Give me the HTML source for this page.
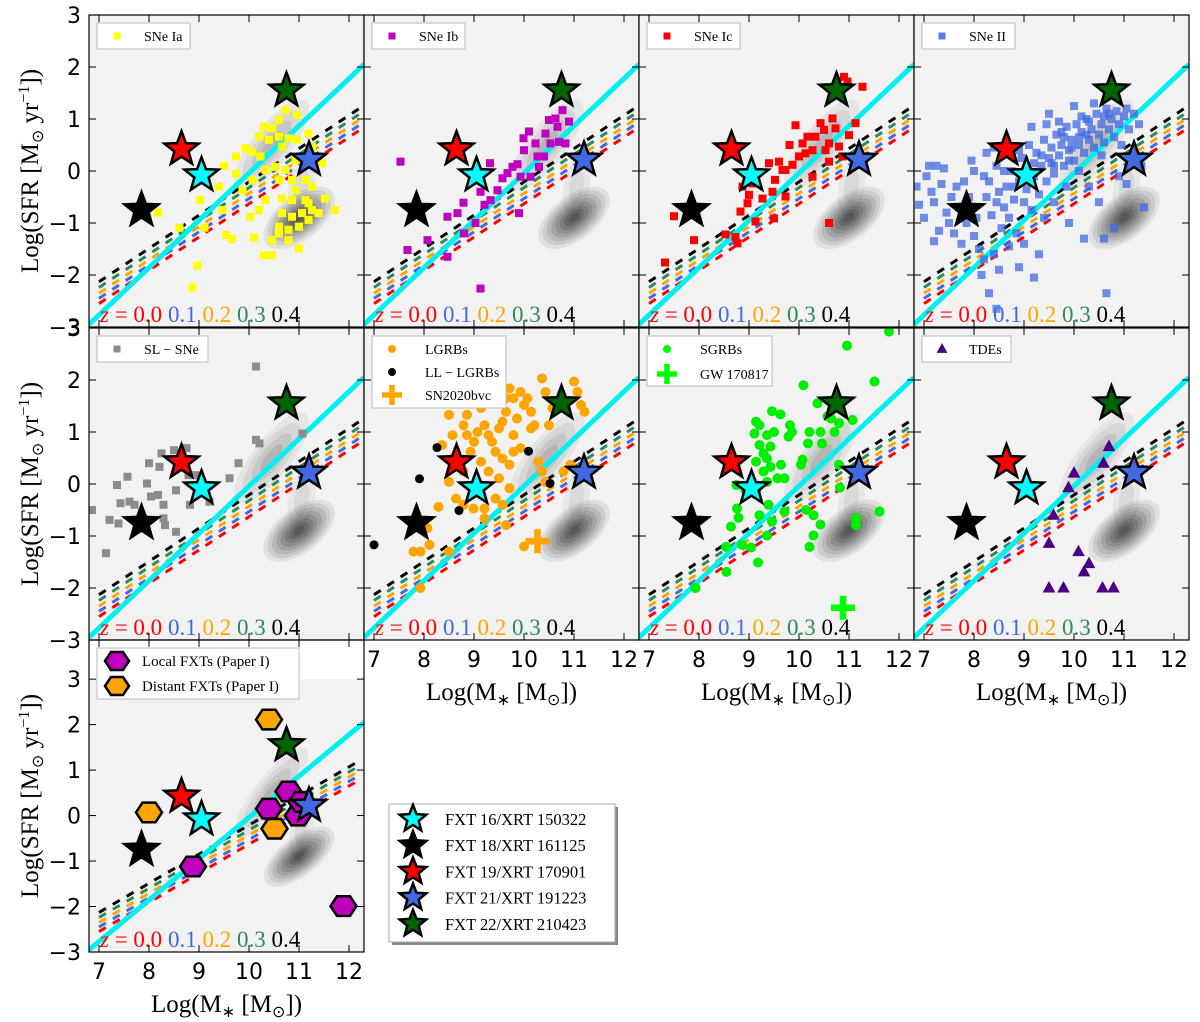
<!DOCTYPE html>
<html><head><meta charset="utf-8"><style>
html,body{margin:0;padding:0;background:#fff;}
svg{display:block;}
</style></head><body>
<svg id="fig" xmlns="http://www.w3.org/2000/svg" width="1200" height="1022" viewBox="0 0 1200 1022">
<defs></defs>
</svg>
<script>
// ---------- data ----------
const xTicks=[7,8,9,10,11,12];
const yTicks=[-3,-2,-1,0,1,2,3];
const zLabels=["0.0","0.1","0.2","0.3","0.4"];
const zColors=["#ff0000","#4169e1","#ffa500","#2e8b57","#000000"];
const msIntercept7=[-2.55,-2.45,-2.35,-2.24,-2.13];
const msSlope=0.64;
const cyanLine=[[6.8,-2.95],[12.3,2.05]];
const fxtNames=["FXT 16/XRT 150322","FXT 18/XRT 161125","FXT 19/XRT 170901","FXT 21/XRT 191223","FXT 22/XRT 210423"];
const fxtColors=["#00ffff","#000000","#ff0000","#4169e1","#006400"];
const fxtMass=[9.05,7.85,8.65,11.2,10.75];
const fxtSFR=[-0.08,-0.75,0.42,0.22,1.55];

const sneIa=[[8.18,-0.80],[8.61,-1.09],[9.02,-0.56],[8.97,-1.82],[8.87,-2.24],[9.11,-1.09],[9.54,-1.23],[9.66,-1.31],[10.03,-0.88],[10.10,-1.28],[10.20,-0.75],[10.30,-1.62],[10.46,-1.62],[9.50,0.10],[9.74,0.28],[9.93,0.44],[10.07,0.37],[10.23,0.28],[10.30,0.85],[10.46,0.82],[10.60,0.98],[10.73,1.17],[10.96,1.08],[10.60,0.66],[10.66,0.47],[10.79,0.63],[10.96,0.60],[10.33,0.02],[10.53,0.08],[10.73,0.02],[10.60,-0.17],[10.86,-0.17],[11.13,-0.17],[11.26,-0.30],[10.93,-0.37],[10.66,-0.53],[10.86,-0.56],[11.13,-0.56],[11.52,-0.53],[11.72,-0.75],[10.66,-0.81],[10.86,-0.88],[11.06,-0.81],[11.26,-0.75],[10.60,-1.07],[10.79,-1.13],[11.0,-1.07],[11.19,-0.94],[10.79,-1.33],[11.0,-1.49],[10.46,-1.33],[10.60,-1.20],[10.33,-0.56],[10.07,-0.17],[11.46,0.15],[11.26,0.47],[11.19,0.72],[9.74,-0.05],[9.87,-0.37],[9.40,-0.30],[10.93,0.21],[10.40,0.60],[10.20,0.66],[9.47,-0.75],[11.19,-0.62],[11.39,-0.81]];
const sneIb=[[7.53,0.18],[7.67,-1.52],[8.07,-1.33],[8.47,-0.88],[8.67,-0.81],[8.79,-0.61],[8.47,-1.65],[8.80,-1.20],[9.03,-1.0],[9.13,-0.40],[9.32,0.15],[9.21,-0.65],[9.33,-0.56],[9.47,-0.37],[9.57,-0.14],[9.67,-0.04],[9.77,0.08],[9.87,0.13],[9.93,-0.11],[9.99,0.63],[10.1,0.76],[10.23,0.53],[10.27,0.28],[10.43,0.72],[10.5,0.98],[10.63,1.01],[10.77,1.17],[10.9,0.95],[10.67,0.85],[10.53,0.53],[10.7,0.56],[10.83,0.53],[10.4,0.28],[10.13,-0.11],[9.9,-0.81],[9.13,-2.26],[10.0,0.4],[10.3,0.08]];
const sneIc=[[7.5,-0.87],[7.9,-1.33],[7.32,-1.76],[8.53,-1.22],[8.73,-1.27],[8.77,-1.39],[8.83,-0.78],[8.87,-0.30],[8.97,-0.62],[9.0,-0.46],[9.07,-0.24],[9.13,-0.97],[9.27,-0.53],[9.4,0.15],[9.47,-0.40],[9.5,-0.91],[9.52,-0.17],[9.6,0.18],[9.67,0.02],[9.73,-0.49],[9.81,0.50],[9.87,0.12],[9.93,0.88],[10.0,0.28],[10.07,0.53],[10.17,0.66],[10.27,0.40],[10.27,-0.11],[10.33,0.66],[10.43,0.92],[10.5,0.79],[10.6,0.53],[10.67,1.01],[10.73,0.82],[10.8,0.47],[10.9,1.81],[10.97,1.72],[11.0,0.69],[11.13,0.92],[11.27,1.62],[10.6,0.18],[10.6,-1.0],[10.53,0.40],[9.73,0.02],[10.13,0.34],[10.87,0.28]];
const sneII=[[6.85,-0.3],[6.9,-0.65],[7.0,-0.9],[7.05,-0.1],[7.1,0.1],[7.15,-0.4],[7.2,-0.6],[7.3,-1.15],[7.35,-0.25],[7.4,0.05],[7.45,-0.8],[7.5,-1.0],[7.55,-0.5],[7.6,-1.2],[7.65,-0.3],[7.7,-0.7],[7.75,-1.4],[7.8,-0.2],[7.85,-1.0],[7.9,-0.5],[7.95,0.2],[8.0,-1.25],[8.05,-0.9],[8.1,-1.5],[8.15,-2.0],[8.2,-1.7],[8.25,-0.5],[8.3,-0.2],[8.35,-0.85],[8.4,-1.6],[8.45,0.1],[8.5,-0.4],[8.55,-1.1],[8.6,-0.7],[8.65,-0.3],[8.7,-0.9],[8.75,0.0],[8.8,-0.55],[8.85,-1.2],[8.9,-0.2],[8.95,0.25],[9.0,-0.6],[9.05,-0.35],[9.1,0.5],[9.15,-0.75],[9.2,-0.1],[9.25,0.35],[9.3,-0.45],[9.35,0.1],[9.4,0.6],[9.45,-0.2],[9.5,0.25],[9.55,0.45],[9.6,-0.05],[9.65,0.7],[9.7,0.3],[9.75,0.5],[9.8,0.1],[9.85,0.85],[9.9,0.4],[9.95,0.6],[10.0,0.2],[10.05,0.9],[10.1,0.5],[10.15,0.75],[10.2,0.35],[10.25,1.0],[10.3,0.6],[10.35,0.8],[10.4,0.45],[10.45,1.1],[10.5,0.7],[10.55,0.9],[10.6,0.55],[10.65,1.2],[10.7,0.8],[10.75,1.0],[10.8,0.65],[10.85,1.15],[10.9,0.9],[10.95,0.5],[11.0,1.05],[11.1,0.8],[11.2,1.1],[11.3,0.9],[10.3,-0.3],[10.5,-0.6],[10.2,-1.3],[10.8,-1.1],[10.6,-1.3],[11.4,-0.7],[9.4,-0.9],[9.9,-1.0],[9.3,-1.6],[8.3,-2.35],[8.45,-2.65],[10.65,-2.35],[9.2,-2.05],[9.85,-0.3],[9.6,-0.6],[10.1,0.0],[9.7,0.95],[9.45,0.9],[8.4,0.45],[8.9,0.4],[8.25,0.35],[7.25,0.1],[9.5,1.1],[10.0,1.25],[10.4,1.3],[9.15,0.85],[8.0,0.0],[11.05,-0.25],[11.35,0.1],[10.9,-0.1],[9.0,-1.4],[8.7,-1.45],[8.5,-1.9],[8.9,-1.85],[7.2,-1.35],[9.6,0.1],[9.8,0.65],[10.3,0.95],[9.9,0.2],[10.6,1.05],[10.1,0.65],[8.2,-0.1],[8.6,0.0],[9.1,-0.15],[9.55,0.15],[9.95,0.45],[10.25,0.7],[10.7,1.1],[11.05,1.2],[10.55,0.3],[9.35,0.3],[9.75,0.75],[10.15,1.05],[8.8,-0.3],[8.45,-0.6],[9.2,0.15]];
const slSNe=[[10.14,2.26],[6.86,-0.5],[7.14,-1.33],[7.21,-0.69],[7.39,-0.76],[7.36,-0.02],[7.43,-0.37],[7.57,0.14],[7.61,-0.34],[7.71,-0.4],[7.96,0.01],[8.0,0.4],[8.04,-0.24],[8.18,-0.21],[8.21,0.33],[8.25,0.59],[8.29,-0.4],[8.29,-0.66],[8.32,-0.79],[8.5,0.65],[8.54,-0.12],[8.54,-0.92],[8.75,0.69],[8.79,0.17],[8.82,-0.4],[8.93,0.17],[9.21,-0.34],[9.61,0.11],[9.79,0.4],[10.14,0.85],[10.21,0.78],[11.07,0.97]];
const lgrbs=[[8.5,1.33],[8.79,1.13],[8.86,0.94],[9.0,0.81],[9.07,1.0],[9.21,1.13],[9.29,0.94],[9.36,0.81],[9.5,1.07],[9.57,1.2],[9.64,1.39],[9.71,1.84],[9.79,1.65],[9.86,1.26],[9.93,1.77],[10.0,1.52],[10.07,1.65],[10.14,1.39],[10.21,1.13],[10.36,2.03],[10.43,1.77],[10.5,1.13],[11.0,1.97],[11.07,1.77],[11.14,1.52],[11.21,1.39],[9.29,1.77],[9.64,1.65],[9.43,0.62],[9.57,0.49],[9.71,0.37],[9.14,0.43],[9.29,0.24],[9.5,0.11],[9.79,0.62],[9.93,0.69],[9.71,-0.08],[9.43,-0.28],[9.57,-0.4],[8.64,-0.28],[8.5,0.04],[8.29,-0.44],[8.79,-0.4],[8.99,-0.47],[8.36,0.75],[8.57,0.49],[8.93,0.62],[9.21,-0.47],[8.07,-0.85],[8.11,-1.17],[7.79,-1.3],[7.93,-1.3],[7.93,-2.0],[8.5,-1.3],[9.21,-0.66],[9.64,-0.79],[10.0,-1.2],[10.29,0.43],[10.36,0.24],[10.43,0.04],[10.79,0.24],[10.93,0.37],[8.79,0.24],[9.07,0.04],[8.86,1.33],[9.79,0.94],[10.14,1.07],[10.57,1.46],[8.57,0.94],[9.14,1.46]];
const llgrbs=[[7.0,-1.17],[7.91,0.1],[8.26,0.7],[8.7,-0.51],[10.09,0.63],[10.52,0.01]];
const sn2020bvc=[[10.27,-1.1]];
const sgrbs=[[11.8,2.93],[10.96,2.66],[11.51,1.97],[10.09,1.9],[10.37,1.55],[10.64,1.26],[10.8,1.17],[11.07,1.23],[9.46,1.4],[9.63,1.34],[9.14,1.2],[9.21,1.13],[9.11,0.97],[9.36,0.94],[9.5,1.0],[9.82,1.13],[9.86,1.0],[9.79,0.91],[10.21,1.0],[10.43,1.0],[10.71,1.0],[10.18,0.78],[10.46,0.78],[9.21,0.75],[9.43,0.72],[9.29,0.59],[9.14,0.43],[9.36,0.49],[9.43,0.33],[9.64,0.37],[9.71,0.11],[9.57,0.11],[9.29,0.24],[9.36,0.04],[10.04,0.37],[10.07,0.47],[8.75,-0.02],[8.93,-0.12],[9.14,-0.15],[9.39,-0.4],[8.76,-0.47],[8.79,-0.65],[8.64,-0.82],[9.21,-0.6],[9.46,-0.72],[9.71,-0.53],[10.14,-0.5],[10.29,-0.6],[10.43,-0.78],[10.29,-0.99],[10.21,-1.21],[9.36,-0.99],[8.86,-1.17],[9.04,-1.22],[8.54,-1.21],[9.18,-1.51],[8.55,-1.69],[7.93,-2.0],[10.82,-0.07],[10.8,0.37],[11.14,-0.79],[11.14,-0.66],[11.61,-0.53],[10.57,1.3]];
const gw170817=[[10.88,-2.38]];
const tdes=[[9.5,-2.0],[9.79,-2.0],[10.57,-2.0],[10.79,-2.0],[9.5,-1.14],[10.09,-1.3],[10.3,-1.53],[10.2,-1.69],[9.59,-0.6],[9.89,-0.07],[10.0,0.21],[10.59,0.4],[10.7,0.72]];
const localFXTs=[[8.88,-1.12],[10.4,0.15],[10.79,0.53],[10.98,0.0],[11.89,-1.99],[11.05,0.3]];
const distantFXTs=[[8.0,0.07],[10.4,2.11],[10.51,-0.29]];

// ---------- layout ----------
const NS="http://www.w3.org/2000/svg";
const svg=document.getElementById('fig');
const defs=svg.querySelector('defs');
const COLX=[89,364,639,914], PW=275, XMIN=6.8, XMAX=12.3;
const ROWS=[{top:15,h:312,ymin:-3,ymax:3},{top:328,h:312,ymin:-3,ymax:3},{top:640,h:312,ymin:-3,ymax:3.86}];
function el(tag,attrs,parent){const e=document.createElementNS(NS,tag);for(const k in attrs)e.setAttribute(k,attrs[k]);(parent||svg).appendChild(e);return e;}
function starPts(cx,cy,R,r){let p=[];for(let i=0;i<10;i++){const a=-Math.PI/2+i*Math.PI/5;const rr=i%2?r:R;p.push((cx+rr*Math.cos(a)).toFixed(1)+","+(cy+rr*Math.sin(a)).toFixed(1));}return p.join(" ");}
function hexPts(cx,cy,R){let p=[];for(let i=0;i<6;i++){const a=i*Math.PI/3;p.push((cx+R*Math.cos(a)).toFixed(1)+","+(cy+R*0.87*Math.sin(a)).toFixed(1));}return p.join(" ");}

const panels=[
 {r:0,c:0,name:"sne-ia",legend:[{label:"SNe Ia",m:"sq",col:"#ffff00"}],series:[{d:sneIa,m:"sq",col:"#ffff00",s:8,nm:"sne-ia-point"}],lw:93},
 {r:0,c:1,name:"sne-ib",legend:[{label:"SNe Ib",m:"sq",col:"#bf00bf"}],series:[{d:sneIb,m:"sq",col:"#bf00bf",s:8,nm:"sne-ib-point"}],lw:93},
 {r:0,c:2,name:"sne-ic",legend:[{label:"SNe Ic",m:"sq",col:"#ff0000"}],series:[{d:sneIc,m:"sq",col:"#ff0000",s:8,nm:"sne-ic-point"}],lw:93},
 {r:0,c:3,name:"sne-ii",legend:[{label:"SNe II",m:"sq",col:"#5a7be8"}],series:[{d:sneII,m:"sq",col:"#4169e1",s:8,op:0.75,nm:"sne-ii-point"}],lw:93},
 {r:1,c:0,name:"sl-sne",legend:[{label:"SL − SNe",m:"sq",col:"#8c8c8c"}],series:[{d:slSNe,m:"sq",col:"#8c8c8c",s:8,nm:"sl-sne-point"}],lw:111},
 {r:1,c:1,name:"lgrbs",legend:[{label:"LGRBs",m:"ci",col:"#ffa500"},{label:"LL − LGRBs",m:"ci",col:"#000"},{label:"SN2020bvc",m:"plus",col:"#ffa500"}],series:[{d:lgrbs,m:"ci",col:"#ffa500",s:5,nm:"lgrb-point"},{d:llgrbs,m:"ci",col:"#000",s:4.5,nm:"ll-lgrb-point"},{d:sn2020bvc,m:"plus",col:"#ffa500",s:12,nm:"sn2020bvc-marker"}],lw:134},
 {r:1,c:2,name:"sgrbs",legend:[{label:"SGRBs",m:"ci",col:"#00ff00"},{label:"GW 170817",m:"plus",col:"#00ff00"}],series:[{d:sgrbs,m:"ci",col:"#00ee00",s:5,nm:"sgrb-point"},{d:gw170817,m:"plus",col:"#00ff00",s:12,nm:"gw170817-marker"}],lw:125},
 {r:1,c:3,name:"tdes",legend:[{label:"TDEs",m:"tri",col:"#4b0082"}],series:[{d:tdes,m:"tri",col:"#4b0082",s:7,nm:"tde-point"}],lw:89},
 {r:2,c:0,name:"fxts",legend:[{label:"Local FXTs (Paper I)",m:"hex",col:"#bf00bf"},{label:"Distant FXTs (Paper I)",m:"hex",col:"#ffa500"}],series:[],lw:202},
];

panels.forEach((P,pi)=>{
 const R=ROWS[P.r], x0=COLX[P.c], y0=R.top, ky=R.h/(R.ymax-R.ymin);
 const sx=v=>x0+(v-XMIN)*PW/(XMAX-XMIN);
 const sy=v=>y0+(R.ymax-v)*ky;
 const cid="clip"+pi;
 const cp=el('clipPath',{id:cid},defs); el('rect',{x:x0,y:y0,width:PW,height:R.h},cp);
 const g=el('g',{'clip-path':`url(#${cid})`});
 
 
 const bgTop=P.r===2?sy(3):y0;
 el('rect',{x:x0,y:bgTop,width:PW,height:y0+R.h-bgTop,fill:'#f2f2f2'},g);
 // contours
 const cg=el('g',{},g);
 
 
 const f=ky/52;
 const blobs=[
  {cx:10.45,cy:0.5,rx:56,ry:19,rot:-52,n:4,op:0.05},
  {cx:11.05,cy:-0.3,rx:30,ry:13,rot:-80,n:2,op:0.045},
  {cx:11.0,cy:-0.9,rx:42,ry:22,rot:-38,n:8,op:0.075}];
 blobs.forEach((b)=>{for(let k=0;k<b.n;k++){const s=1-k/(b.n+0.3);const px=sx(b.cx),py=sy(b.cy);
   el('ellipse',{cx:px,cy:py,rx:b.rx*s,ry:b.ry*s*f,transform:`rotate(${b.rot} ${px} ${py})`,fill:'#000','fill-opacity':b.op+k*0.012},cg);}});
 zColors.forEach((zc,i)=>{const ln=el('line',{x1:sx(7),y1:sy(msIntercept7[i]),x2:sx(12.2),y2:sy(msIntercept7[i]+msSlope*5.2),stroke:zc,'stroke-width':3,'stroke-dasharray':'8 8'},g);
  
  });
 const cl=el('line',{x1:sx(cyanLine[0][0]),y1:sy(cyanLine[0][1]),x2:sx(cyanLine[1][0]),y2:sy(cyanLine[1][1]),stroke:'#00f0f0','stroke-width':5},g);
 
 
 function marker(m,col,px,py,s,parent,op){let e;
  if(m==='sq')e=el('rect',{x:px-s/2,y:py-s/2,width:s,height:s,fill:col},parent);
  else if(m==='ci')e=el('circle',{cx:px,cy:py,r:s,fill:col},parent);
  else if(m==='tri')e=el('polygon',{points:`${px},${py-s} ${px+s*0.9},${py+s*0.65} ${px-s*0.9},${py+s*0.65}`,fill:col},parent);
  else if(m==='plus')e=el('path',{d:`M${px-s} ${py}H${px+s}M${px} ${py-s}V${py+s}`,stroke:col,'stroke-width':s*0.55,fill:'none'},parent);
  else if(m==='hex')e=el('polygon',{points:hexPts(px,py,s),fill:col,stroke:'#000','stroke-width':2.5},parent);
  if(op)e.setAttribute('fill-opacity',op);return e;}
 P.series.forEach(S=>{S.d.forEach(pt=>{const e=marker(S.m,S.col,sx(pt[0]),sy(pt[1]),S.s,g,S.op);
   
   });});
 if(P.r===2){
  const hs=13;
  localFXTs.forEach(pt=>{const e=marker('hex','#bf00bf',sx(pt[0]),sy(pt[1]),hs,g);
   
   });
  distantFXTs.forEach(pt=>{const e=marker('hex','#ffa500',sx(pt[0]),sy(pt[1]),hs,g);
   
   });
 }
 fxtMass.forEach((m,i)=>{const s=el('polygon',{points:starPts(sx(m),sy(fxtSFR[i]),18,7.5),fill:fxtColors[i],stroke:'#000','stroke-width':2.5,'stroke-linejoin':'miter'},g);
  
  });
 const zt=el('text',{x:x0+11,y:y0+R.h-5,'font-family':'"Liberation Serif",serif','font-size':23},g);
 
 
 zt.innerHTML=`<tspan fill="#ff0000" font-style="italic">z</tspan><tspan fill="#ff0000"> = 0.0 </tspan><tspan fill="#4169e1">0.1 </tspan><tspan fill="#ffa500">0.2 </tspan><tspan fill="#2e8b57">0.3 </tspan><tspan fill="#000">0.4</tspan>`;
 const lg=el('g',{},g);
 
 
 const lh=P.legend.length===1?26:(P.legend.length===2?(P.r===2?51:50):72);
 el('rect',{x:x0+8,y:y0+8,width:P.lw,height:lh,fill:'#fff',stroke:'#bbb','stroke-width':1},lg);
 P.legend.forEach((L,i)=>{const yy=y0+8+13+i*(P.legend.length===3?23:25);
  const mx=x0+28;
  const ms=L.m==='sq'?7:L.m==='ci'?4:L.m==='tri'?6:L.m==='plus'?10:12;
  marker(L.m,L.col,mx,yy,ms,lg);
  const t=el('text',{x:x0+(P.r===2?53:P.legend.length>1?61:55),y:yy+5,'font-family':'"Liberation Serif",serif','font-size':P.r===2?15:14,fill:'#000'},lg);
  t.textContent=L.label;
  
  });
 el('rect',{x:x0,y:y0,width:PW,height:R.h,fill:'none',stroke:'#000','stroke-width':1.2});
 xTicks.forEach(v=>{const X=sx(v);el('line',{x1:X,y1:y0,x2:X,y2:y0+7,stroke:'#000'});el('line',{x1:X,y1:y0+R.h,x2:X,y2:y0+R.h-7,stroke:'#000'});});
 yTicks.forEach(v=>{const Y=sy(v);el('line',{x1:x0,y1:Y,x2:x0+7,y2:Y,stroke:'#000'});el('line',{x1:x0+PW,y1:Y,x2:x0+PW-7,y2:Y,stroke:'#000'});});
 if(P.c===0){yTicks.forEach(v=>{const t=el('text',{x:x0-8,y:sy(v)+8,'text-anchor':'end','font-family':'"DejaVu Sans",sans-serif','font-size':22});t.textContent=v<0?'−'+(-v):String(v);
  
  });
  const cy=y0+R.h/2;
  const yt=el('text',{x:0,y:0,transform:`translate(38 ${cy}) rotate(-90)`,'text-anchor':'middle','font-family':'"Liberation Serif",serif','font-size':25});
  yt.innerHTML='Log(SFR [M<tspan font-size="16" dy="5">⊙</tspan><tspan dy="-5"> yr</tspan><tspan font-size="16" dy="-9">−1</tspan><tspan dy="9">])</tspan>';
  
  }
 if((P.r===1&&P.c>0)||P.r===2){xTicks.forEach(v=>{const t=el('text',{x:sx(v),y:y0+R.h+27,'text-anchor':'middle','font-family':'"DejaVu Sans",sans-serif','font-size':22});t.textContent=String(v);
  
  });
  const xt=el('text',{x:x0+PW/2,y:y0+R.h+60,'text-anchor':'middle','font-family':'"Liberation Serif",serif','font-size':25});
  xt.innerHTML='Log(M<tspan font-size="16" dy="5">∗</tspan><tspan dy="-5"> [M</tspan><tspan font-size="16" dy="5">⊙</tspan><tspan dy="-5">])</tspan>';
  
  }
});

const L=el('g',{});


el('rect',{x:392,y:807,width:226,height:138,fill:'#888'},L);
el('rect',{x:389,y:804,width:226,height:138,fill:'#fff',stroke:'#aaa'},L);
fxtNames.forEach((n,i)=>{const yy=819+i*26.2;
 el('polygon',{points:starPts(413,yy,14,6),fill:fxtColors[i],stroke:'#000','stroke-width':2.5},L);
 const t=el('text',{x:445,y:yy+6,'font-family':'"Liberation Serif",serif','font-size':16.5},L);t.textContent=n;
 
 });
</script>
</body></html>
